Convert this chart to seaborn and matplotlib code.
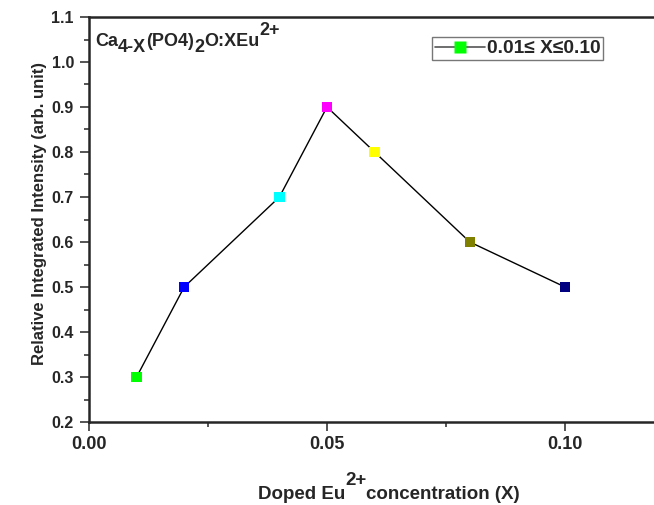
import matplotlib
matplotlib.use("Agg")
import matplotlib.pyplot as plt
import seaborn as sns
import pandas as pd
from matplotlib.lines import Line2D
from matplotlib.ticker import MultipleLocator, FormatStrFormatter

x_conc = [0.01, 0.02, 0.04, 0.05, 0.06, 0.08, 0.10]
intensity = [0.3, 0.5, 0.7, 0.9, 0.8, 0.6, 0.5]
point_colors = ["#00ff00", "#0000ff", "#00ffff", "#ff00ff", "#ffff00", "#808000", "#000080"]
legend_label = "0.01≤ X≤0.10"
title_pieces = [("Ca", 0), ("4-X", -6), ("(PO4)", 0), ("2", -6), ("O:XEu", 0), ("2+", 11)]
xlabel_pieces = [("Doped Eu", 0), ("2+", 14), ("concentration (X)", 0)]
ylabel_text = "Relative Integrated Intensity (arb. unit)"

sns.set_style("ticks")
plt.rcParams["font.family"] = ["Liberation Sans", "DejaVu Sans"]
plt.rcParams["font.weight"] = "bold"

W, H = 654, 505
df = pd.DataFrame({"x": x_conc, "y": intensity, "c": [str(i) for i in range(len(x_conc))]})

fig = plt.figure(figsize=(W / 100, H / 100), dpi=100)
ax = fig.add_axes([89 / W, 1 - 422 / H, (W - 89) / W, (422 - 17) / H])

sns.lineplot(data=df, x="x", y="y", ax=ax, color="black", linewidth=1.0, sort=False)
sns.scatterplot(data=df, x="x", y="y", hue="c", palette=point_colors, marker="s", s=58,
                edgecolor="none", ax=ax, legend=False, zorder=3)

ax.set_xlim(0, 0.1187)
ax.set_ylim(0.2, 1.1)
ax.xaxis.set_major_locator(MultipleLocator(0.05))
ax.xaxis.set_minor_locator(MultipleLocator(0.025))
ax.yaxis.set_major_locator(MultipleLocator(0.1))
ax.yaxis.set_minor_locator(MultipleLocator(0.05))
ax.xaxis.set_major_formatter(FormatStrFormatter("%.2f"))
ax.yaxis.set_major_formatter(FormatStrFormatter("%.1f"))
ax.tick_params(which="major", direction="out", length=6.5, width=1.1)
ax.tick_params(which="minor", direction="out", length=3.5, width=1.1)
ax.tick_params(axis="x", which="major", labelsize=13, pad=3.6)
ax.tick_params(axis="y", which="major", labelsize=11.5, pad=4.3)
for lab in ax.get_xticklabels() + ax.get_yticklabels():
    lab.set_fontweight("bold")

ax.spines["right"].set_visible(False)
for s in ["left", "bottom", "top"]:
    ax.spines[s].set_linewidth(1.8)

ax.set_xlabel("")
ax.set_ylabel(ylabel_text, fontsize=12, fontweight="bold")
ax.yaxis.set_label_coords((47 - 89) / (W - 89), (422 - 213.5) / (422 - 17))


def rich_text(pieces, x_px, y_px, size):
    first, off0 = pieces[0]
    prev = fig.text(x_px / W, 1 - (y_px - off0) / H, first, fontsize=size,
                    fontweight="bold", va="baseline", ha="left")
    prev_off = off0
    for txt, off in pieces[1:]:
        prev = ax.annotate(
            txt, xy=(1, 0), xycoords=prev, xytext=(0, (off - prev_off) * 0.72),
            textcoords="offset points", fontsize=size, fontweight="bold",
            va="bottom", ha="left", annotation_clip=False)
        prev_off = off
    return prev


rich_text(title_pieces, 95, 46, 13)
rich_text(xlabel_pieces, 258, 499, 13.5)

handle = Line2D([0], [0], color="#555555", lw=1.2, marker="s", markerfacecolor="#00ff00",
                markeredgecolor="none", markersize=8)
leg = ax.legend([handle], [legend_label], loc="upper left",
                bbox_to_anchor=(432 / W, 1 - 37 / H), bbox_transform=fig.transFigure,
                borderaxespad=0, frameon=True, fancybox=False, handlelength=2.6,
                handletextpad=0.1, borderpad=0.15, prop={"weight": "bold", "size": 13.8})
leg.get_frame().set_edgecolor("#555555")
leg.get_frame().set_linewidth(1.0)

fig.savefig("out.png", dpi=100)
